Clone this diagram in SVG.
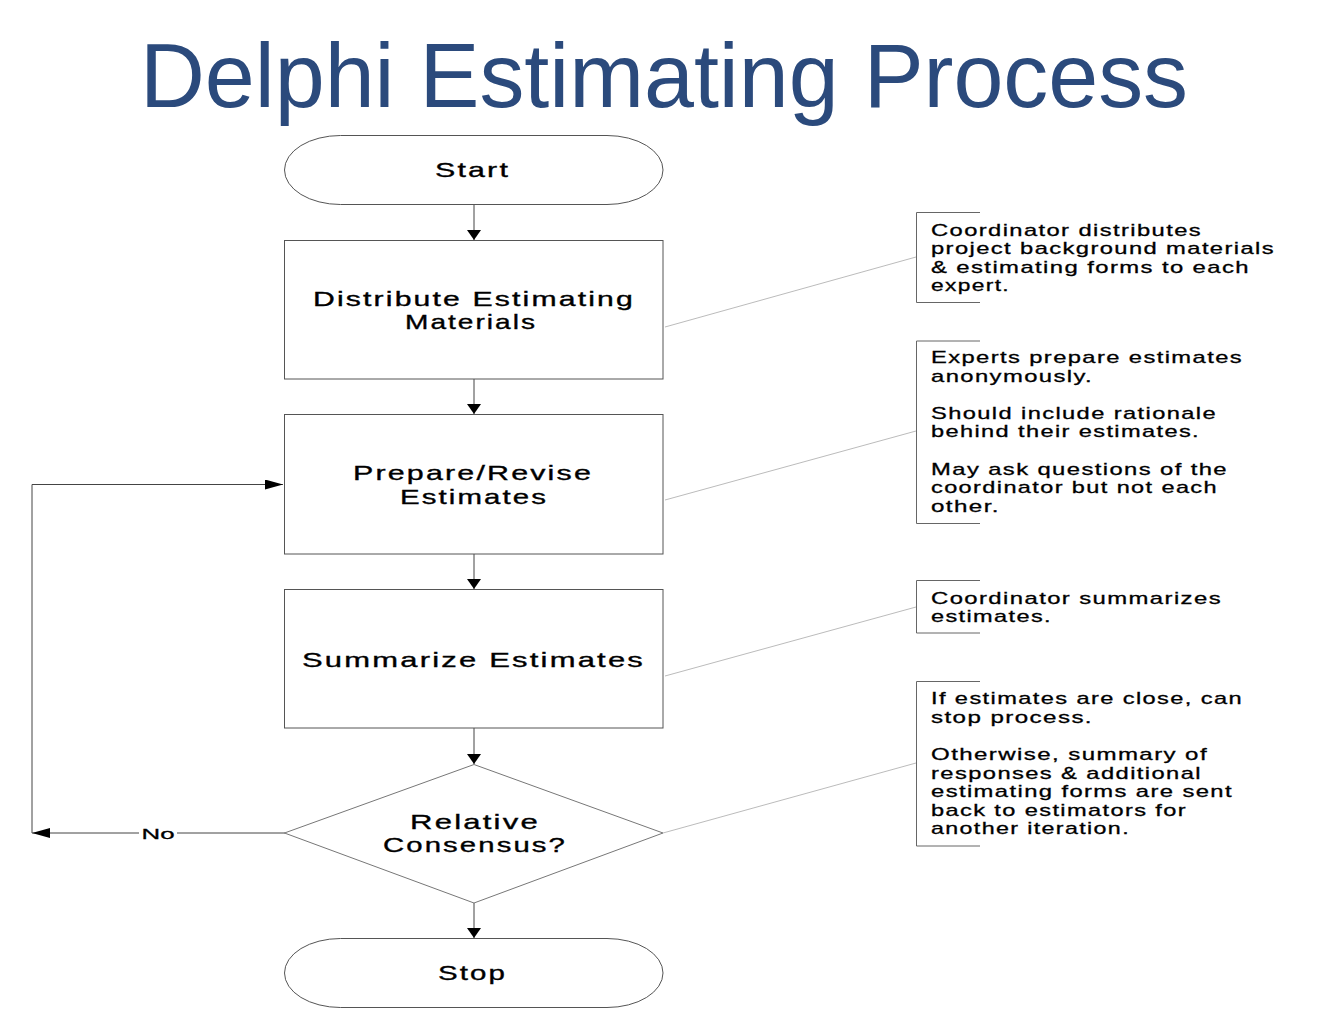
<svg xmlns="http://www.w3.org/2000/svg" width="1326" height="1030" viewBox="0 0 1326 1030">
<style>
  .title { font-family: "Liberation Sans", Arial, sans-serif; font-size: 90px; fill: #2B4A7C; }
  .lbl { font-family: "Liberation Sans", Arial, sans-serif; font-size: 21px; fill: #000; stroke: #000; stroke-width: 0.35; text-anchor: middle; letter-spacing: 1.5px; }
  .note { font-family: "Liberation Sans", Arial, sans-serif; font-size: 17px; fill: #000; stroke: #000; stroke-width: 0.3; letter-spacing: 1px; }
  .small { font-family: "Liberation Sans", Arial, sans-serif; font-size: 15px; fill: #000; stroke: #000; stroke-width: 0.3; text-anchor: middle; }
  .shape { fill: #fff; stroke: #555; stroke-width: 1; }
  .dia { fill: #fff; stroke: #777; stroke-width: 1; }
  .conn { fill: none; stroke: #444; stroke-width: 1; }
  .lead { fill: none; stroke: #aaa; stroke-width: 0.8; }
  .brk { fill: none; stroke: #666; stroke-width: 1; }
</style>
<defs>
  <marker id="arrV" markerUnits="userSpaceOnUse" markerWidth="10" markerHeight="14" refX="10" refY="7" orient="auto" viewBox="0 0 10 14">
    <path d="M0,0 L10,7 L0,14 Z" fill="#000"/>
  </marker>
  <marker id="arrH" markerUnits="userSpaceOnUse" markerWidth="18" markerHeight="10" refX="18" refY="5" orient="auto" viewBox="0 0 18 10">
    <path d="M0,0 L18,5 L0,10 Z" fill="#000"/>
  </marker>
</defs>
<rect width="1326" height="1030" fill="#fff"/>

<text class="title" x="664" y="107" text-anchor="middle" textLength="1048" lengthAdjust="spacingAndGlyphs">Delphi Estimating Process</text>

<g id="connectors">
  <line class="conn" x1="474" y1="205" x2="474" y2="240" marker-end="url(#arrV)"/>
  <line class="conn" x1="474" y1="379" x2="474" y2="414" marker-end="url(#arrV)"/>
  <line class="conn" x1="474" y1="554" x2="474" y2="589" marker-end="url(#arrV)"/>
  <line class="conn" x1="474" y1="728" x2="474" y2="764" marker-end="url(#arrV)"/>
  <line class="conn" x1="474" y1="903" x2="474" y2="938" marker-end="url(#arrV)"/>
  <line class="conn" x1="285" y1="833" x2="32" y2="833" marker-end="url(#arrH)"/>
  <polyline class="conn" points="32,833 32,484.5 283,484.5" marker-end="url(#arrH)"/>
  <rect x="139" y="824" width="38" height="18" fill="#fff"/>
  <text class="small" x="158" y="839" textLength="33" lengthAdjust="spacingAndGlyphs">No</text>
  <line class="lead" x1="665" y1="327" x2="916" y2="257"/>
  <line class="lead" x1="665" y1="500" x2="916" y2="431"/>
  <line class="lead" x1="665" y1="676" x2="916" y2="607"/>
  <line class="lead" x1="663" y1="833" x2="916" y2="763"/>
</g>

<g id="start">
  <rect class="shape" x="284.5" y="135.5" width="378.5" height="69" rx="56" ry="34.5"/>
  <text class="lbl" x="472.5" y="177" textLength="75" lengthAdjust="spacingAndGlyphs">Start</text>
</g>

<g id="distribute">
  <rect class="shape" x="284.5" y="240.5" width="378.5" height="138.5"/>
  <text class="lbl" x="474" y="305.5" textLength="322" lengthAdjust="spacingAndGlyphs">Distribute Estimating</text>
  <text class="lbl" x="471" y="328.5" textLength="132" lengthAdjust="spacingAndGlyphs">Materials</text>
</g>

<g id="prepare">
  <rect class="shape" x="284.5" y="414.5" width="378.5" height="139.5"/>
  <text class="lbl" x="473" y="480" textLength="240" lengthAdjust="spacingAndGlyphs">Prepare/Revise</text>
  <text class="lbl" x="474" y="503.5" textLength="148" lengthAdjust="spacingAndGlyphs">Estimates</text>
</g>

<g id="summarize">
  <rect class="shape" x="284.5" y="589.5" width="378.5" height="138.5"/>
  <text class="lbl" x="473.5" y="666.5" textLength="343" lengthAdjust="spacingAndGlyphs">Summarize Estimates</text>
</g>

<g id="consensus">
  <polygon class="dia" points="474,764.5 663,833 474,903 284.5,833"/>
  <text class="lbl" x="475" y="829" textLength="130" lengthAdjust="spacingAndGlyphs">Relative</text>
  <text class="lbl" x="475" y="852" textLength="184" lengthAdjust="spacingAndGlyphs">Consensus?</text>
</g>

<g id="stop">
  <rect class="shape" x="284.5" y="938.5" width="378.5" height="69" rx="56" ry="34.5"/>
  <text class="lbl" x="472.5" y="980" textLength="69" lengthAdjust="spacingAndGlyphs">Stop</text>
</g>

<g id="note1">
  <polyline class="brk" points="980,212.5 916.5,212.5 916.5,302.5 980,302.5"/>
  <text class="note" x="931" y="236" textLength="271" lengthAdjust="spacingAndGlyphs">Coordinator distributes</text>
  <text class="note" x="931" y="254.3" textLength="344" lengthAdjust="spacingAndGlyphs">project background materials</text>
  <text class="note" x="931" y="272.6" textLength="319" lengthAdjust="spacingAndGlyphs">&amp; estimating forms to each</text>
  <text class="note" x="931" y="291" textLength="79" lengthAdjust="spacingAndGlyphs">expert.</text>
</g>

<g id="note2">
  <polyline class="brk" points="980,341 916.5,341 916.5,523.5 980,523.5"/>
  <text class="note" x="931" y="363" textLength="312" lengthAdjust="spacingAndGlyphs">Experts prepare estimates</text>
  <text class="note" x="931" y="381.5" textLength="162" lengthAdjust="spacingAndGlyphs">anonymously.</text>
  <text class="note" x="931" y="418.5" textLength="286" lengthAdjust="spacingAndGlyphs">Should include rationale</text>
  <text class="note" x="931" y="437" textLength="269" lengthAdjust="spacingAndGlyphs">behind their estimates.</text>
  <text class="note" x="931" y="474.5" textLength="297" lengthAdjust="spacingAndGlyphs">May ask questions of the</text>
  <text class="note" x="931" y="493" textLength="287" lengthAdjust="spacingAndGlyphs">coordinator but not each</text>
  <text class="note" x="931" y="511.5" textLength="69" lengthAdjust="spacingAndGlyphs">other.</text>
</g>

<g id="note3">
  <polyline class="brk" points="980,580.5 916.5,580.5 916.5,633 980,633"/>
  <text class="note" x="931" y="603.5" textLength="291" lengthAdjust="spacingAndGlyphs">Coordinator summarizes</text>
  <text class="note" x="931" y="621.5" textLength="121" lengthAdjust="spacingAndGlyphs">estimates.</text>
</g>

<g id="note4">
  <polyline class="brk" points="980,681.5 916.5,681.5 916.5,846 980,846"/>
  <text class="note" x="931" y="704" textLength="312" lengthAdjust="spacingAndGlyphs">If estimates are close, can</text>
  <text class="note" x="931" y="722.5" textLength="162" lengthAdjust="spacingAndGlyphs">stop process.</text>
  <text class="note" x="931" y="760" textLength="277" lengthAdjust="spacingAndGlyphs">Otherwise, summary of</text>
  <text class="note" x="931" y="778.5" textLength="271" lengthAdjust="spacingAndGlyphs">responses &amp; additional</text>
  <text class="note" x="931" y="797" textLength="302" lengthAdjust="spacingAndGlyphs">estimating forms are sent</text>
  <text class="note" x="931" y="815.5" textLength="256" lengthAdjust="spacingAndGlyphs">back to estimators for</text>
  <text class="note" x="931" y="834" textLength="199" lengthAdjust="spacingAndGlyphs">another iteration.</text>
</g>
</svg>
